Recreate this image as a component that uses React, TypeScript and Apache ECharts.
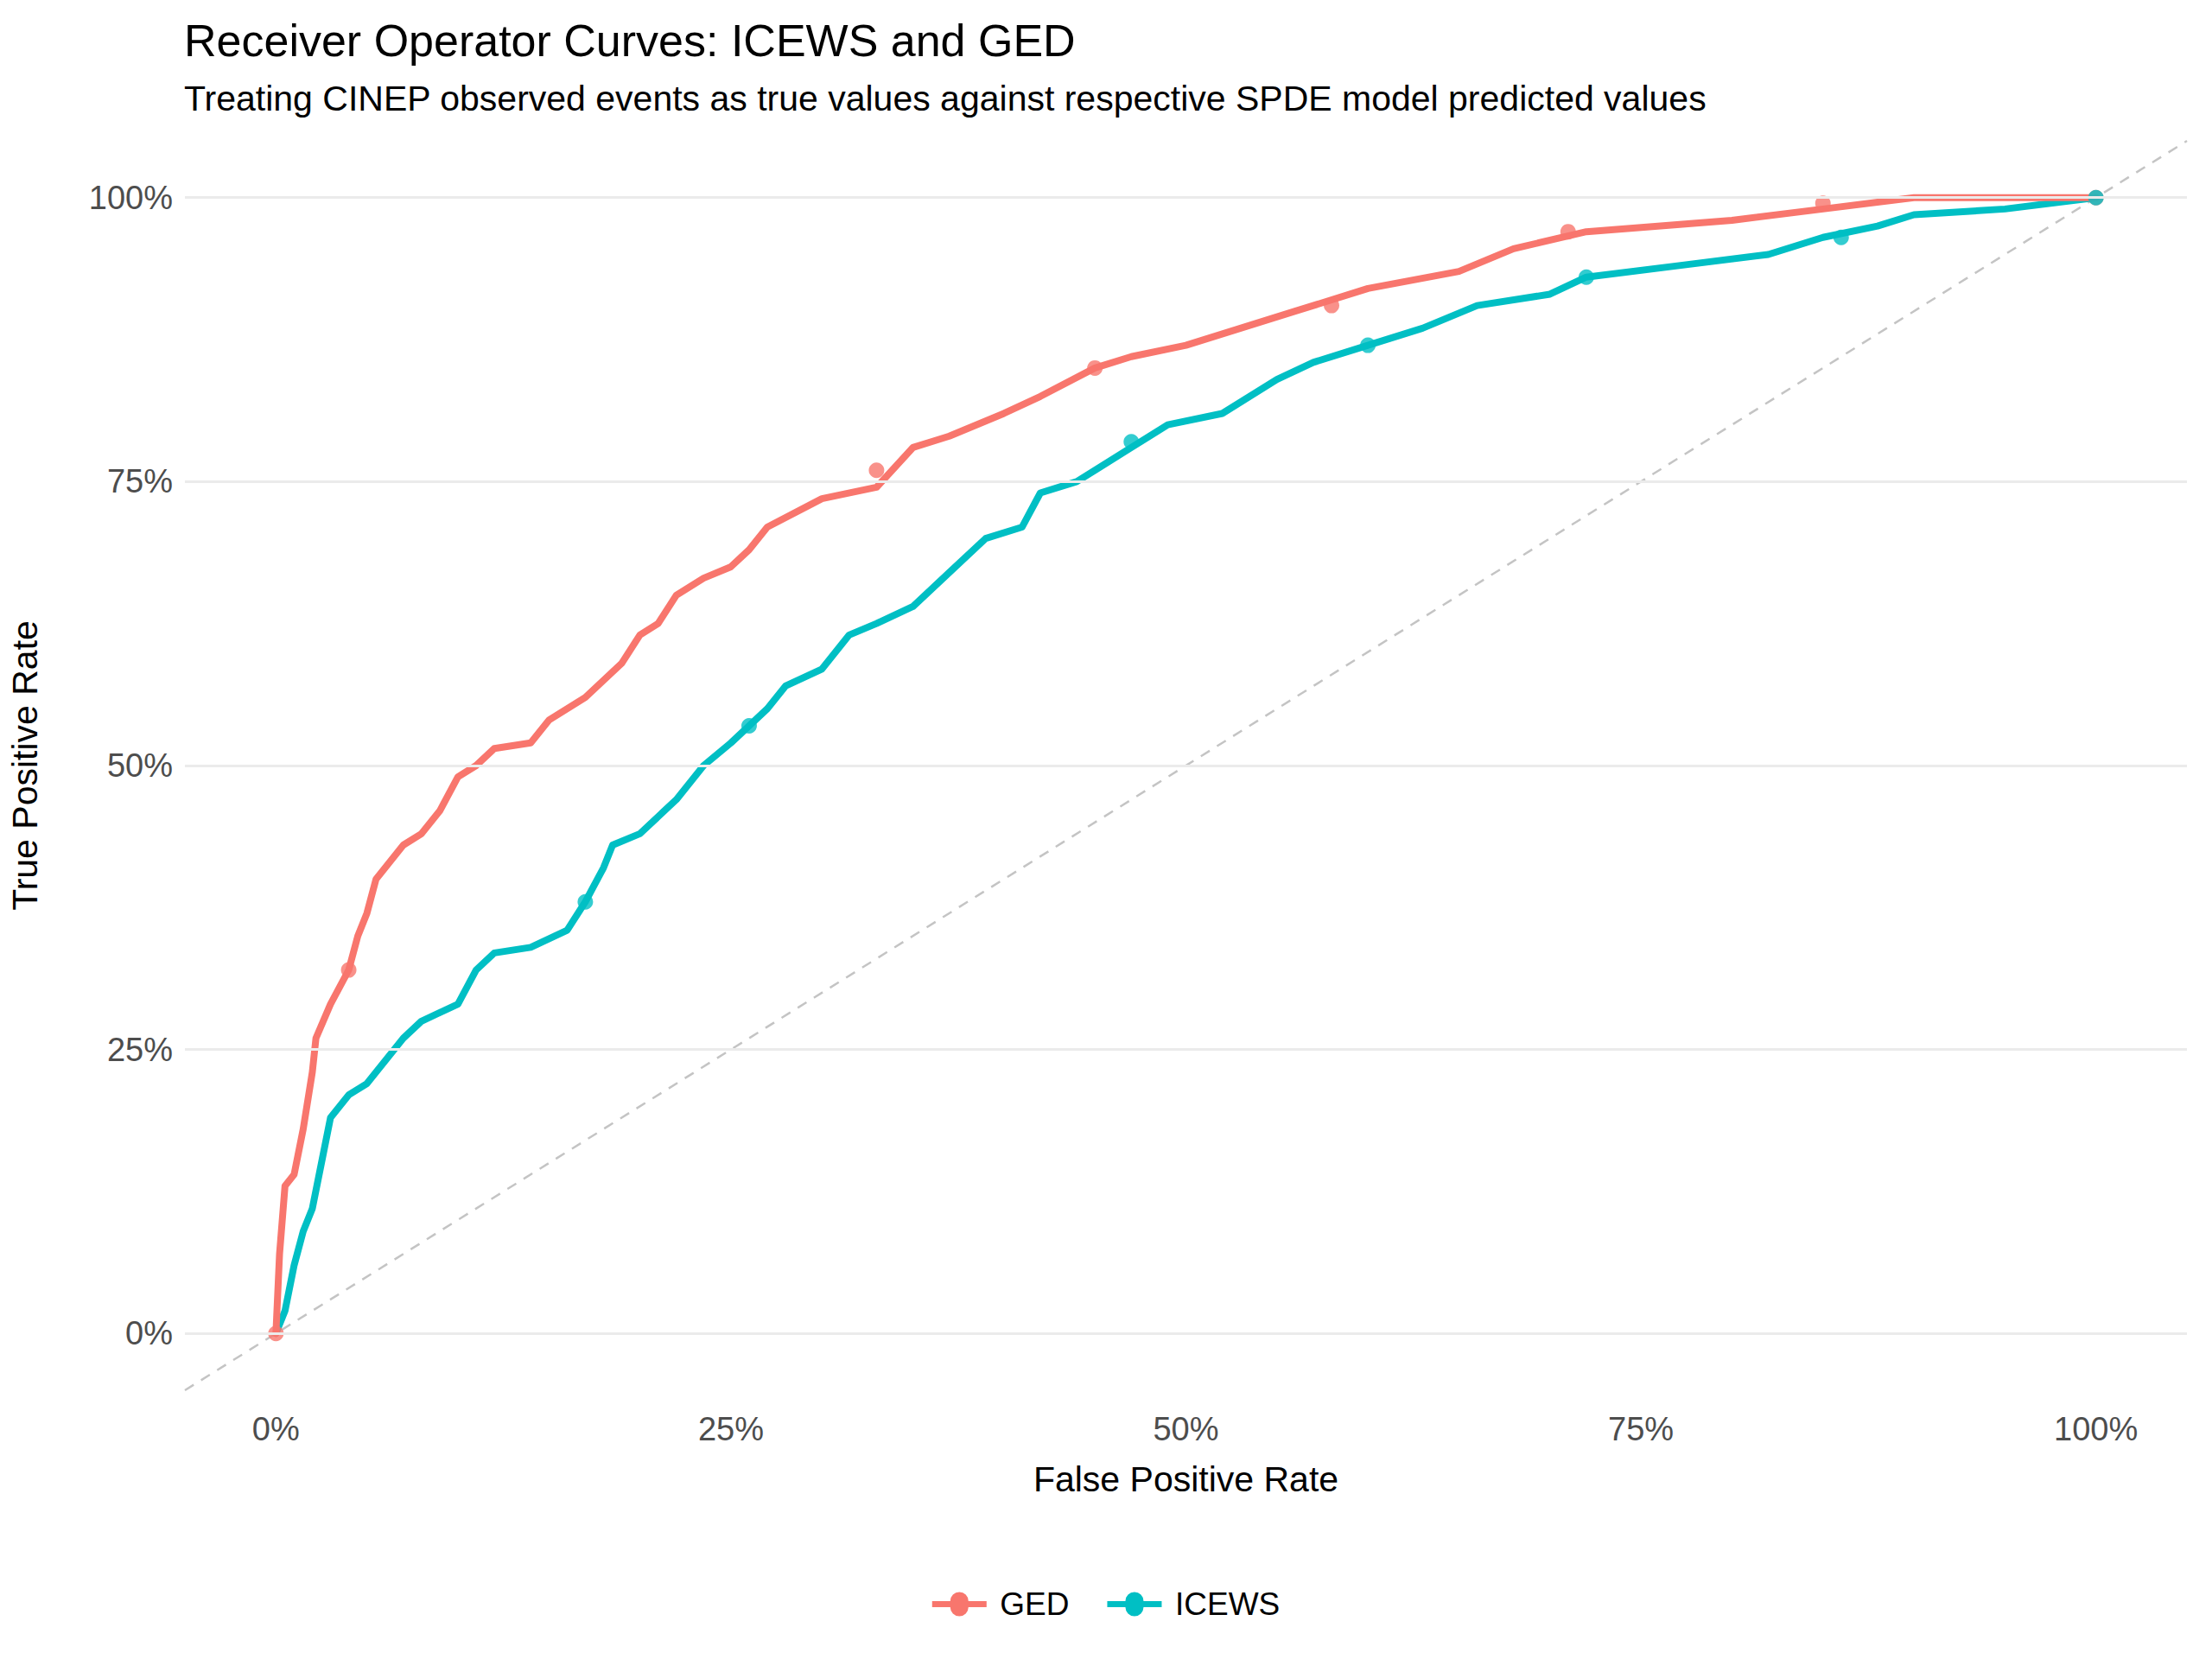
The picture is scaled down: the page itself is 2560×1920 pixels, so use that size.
import React, { useEffect, useRef } from 'react';
import * as echarts from 'echarts';

// ROC points [false positive rate, true positive rate]
const gedCurve = [
  [0, 0], [0.002, 0.07], [0.005, 0.13], [0.01, 0.14], [0.015, 0.18], [0.02, 0.23], [0.022, 0.26],
  [0.03, 0.29], [0.04, 0.32], [0.045, 0.35], [0.05, 0.37], [0.055, 0.4], [0.07, 0.43], [0.08, 0.44],
  [0.09, 0.46], [0.1, 0.49], [0.11, 0.5], [0.12, 0.515], [0.14, 0.52], [0.15, 0.54], [0.17, 0.56],
  [0.19, 0.59], [0.2, 0.615], [0.21, 0.625], [0.22, 0.65], [0.235, 0.665], [0.25, 0.675], [0.26, 0.69],
  [0.27, 0.71], [0.3, 0.735], [0.33, 0.745], [0.35, 0.78], [0.37, 0.79], [0.4, 0.81], [0.42, 0.825],
  [0.45, 0.85], [0.47, 0.86], [0.5, 0.87], [0.53, 0.885], [0.56, 0.9], [0.6, 0.92], [0.65, 0.935],
  [0.68, 0.955], [0.72, 0.97], [0.8, 0.98], [0.85, 0.99], [0.9, 1.0], [1, 1],
];
const gedMarkers = [[0, 0], [0.04, 0.32], [0.33, 0.76], [0.45, 0.85], [0.58, 0.905], [0.71, 0.97], [0.85, 0.995], [1, 1]];

const icewsCurve = [
  [0, 0], [0.005, 0.02], [0.01, 0.06], [0.015, 0.09], [0.02, 0.11], [0.025, 0.15], [0.03, 0.19],
  [0.04, 0.21], [0.05, 0.22], [0.06, 0.24], [0.07, 0.26], [0.08, 0.275], [0.1, 0.29], [0.11, 0.32],
  [0.12, 0.335], [0.14, 0.34], [0.16, 0.355], [0.17, 0.38], [0.18, 0.41], [0.185, 0.43], [0.2, 0.44],
  [0.22, 0.47], [0.235, 0.5], [0.25, 0.52], [0.26, 0.535], [0.27, 0.55], [0.28, 0.57], [0.3, 0.585],
  [0.315, 0.615], [0.33, 0.625], [0.35, 0.64], [0.37, 0.67], [0.39, 0.7], [0.41, 0.71], [0.42, 0.74],
  [0.44, 0.75], [0.47, 0.78], [0.49, 0.8], [0.52, 0.81], [0.55, 0.84], [0.57, 0.855], [0.6, 0.87],
  [0.63, 0.885], [0.66, 0.905], [0.7, 0.915], [0.72, 0.93], [0.77, 0.94], [0.82, 0.95], [0.85, 0.965],
  [0.88, 0.975], [0.9, 0.985], [0.95, 0.99], [1, 1],
];
const icewsMarkers = [[0.17, 0.38], [0.26, 0.535], [0.47, 0.785], [0.6, 0.87], [0.72, 0.93], [0.86, 0.965], [1, 1]];

const tickValues = [0, 0.25, 0.5, 0.75, 1];
const diagonal = [[-0.05, -0.05], [1.05, 1.05]];

const GED = '#F8766D';
const ICEWS = '#00BFC4';
const legendIcon = 'path://M0,4h12a6,6 0 1 1 12,0h12v4h-12a6,6 0 1 1 -12,0h-12z';
const pct = (v: number) => `${Math.round(v * 100)}%`;

const App = () => {
  const chartRef = useRef(null);

  useEffect(() => {
    const chart = echarts.init(chartRef.current, null, { renderer: 'svg' });
    const font = 'Arial, "Liberation Sans", sans-serif';

    const option = {
      animation: false,
      backgroundColor: '#fff',
      textStyle: { fontFamily: font },
      title: {
        text: 'Receiver Operator Curves: ICEWS and GED',
        subtext: 'Treating CINEP observed events as true values against respective SPDE model predicted values',
        left: 208, top: 16, itemGap: 20,
        textStyle: { fontSize: 52, fontWeight: 'normal', color: '#000' },
        subtextStyle: { fontSize: 41, color: '#000' },
      },
      legend: {
        bottom: 40, left: 'center', itemWidth: 84, itemHeight: 28, itemGap: 44,
        icon: legendIcon,
        textStyle: { fontSize: 37, color: '#000' },
        data: [
          { name: 'GED', itemStyle: { color: GED } },
          { name: 'ICEWS', itemStyle: { color: ICEWS } },
        ],
      },
      grid: { left: 212, right: 29, top: 163, bottom: 311 },
      xAxis: {
        type: 'value', min: -0.05, max: 1.05,
        name: 'False Positive Rate', nameLocation: 'middle', nameGap: 82,
        nameTextStyle: { fontSize: 41, color: '#000' },
        axisLine: { show: false }, axisTick: { show: false }, splitLine: { show: false },
        axisLabel: { customValues: tickValues, formatter: pct, fontSize: 38, color: '#4d4d4d', margin: 26 },
      },
      yAxis: {
        type: 'value', min: -0.05, max: 1.05,
        name: 'True Positive Rate', nameLocation: 'middle', nameGap: 165,
        nameTextStyle: { fontSize: 41, color: '#000' },
        axisLine: { show: false }, axisTick: { show: false }, splitLine: { show: false },
        axisLabel: { customValues: tickValues, formatter: pct, fontSize: 38, color: '#4d4d4d', margin: 14 },
      },
      series: [
        {
          type: 'line', data: diagonal, showSymbol: false, silent: true,
          lineStyle: { color: '#c4c4c4', width: 2.5, type: [12, 10] },
          markLine: {
            silent: true, symbol: 'none', label: { show: false },
            lineStyle: { color: '#ebebeb', width: 3, type: 'solid' },
            data: tickValues.map((v) => ({ yAxis: v })),
          },
          z: 1,
        },
        {
          name: 'GED', type: 'line', data: gedCurve, showSymbol: false,
          lineStyle: { color: GED, width: 8, join: 'round', cap: 'round' }, itemStyle: { color: GED }, z: 3,
        },
        {
          name: 'GED', type: 'scatter', data: gedMarkers, symbolSize: 18,
          itemStyle: { color: GED }, z: 4,
        },
        {
          name: 'ICEWS', type: 'line', data: icewsCurve, showSymbol: false,
          lineStyle: { color: ICEWS, width: 8, join: 'round', cap: 'round' }, itemStyle: { color: ICEWS }, z: 2,
        },
        {
          name: 'ICEWS', type: 'scatter', data: icewsMarkers, symbolSize: 18,
          itemStyle: { color: ICEWS }, z: 4,
        },
      ],
    };

    chart.setOption(option);
    return () => {
      chart.dispose();
    };
  }, []);

  return <div ref={chartRef} style={{ position: 'fixed', left: 0, top: 0, width: '2560px', height: '1920px' }} />;
};

export default App;
